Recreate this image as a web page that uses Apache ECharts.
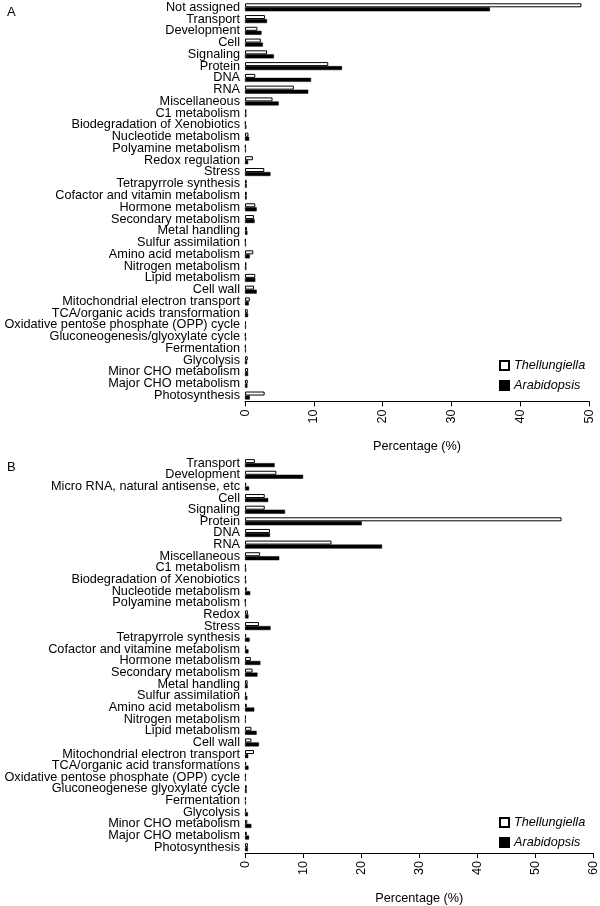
<!DOCTYPE html>
<html>
<head>
<meta charset="utf-8">
<script src="https://cdn.jsdelivr.net/npm/echarts@6/dist/echarts.min.js"></script>
<style>html,body{margin:0;padding:0;background:#fff}#c{width:600px;height:906px}</style>
</head>
<body>
<div id="c"></div>
<script>
var categoriesA = ["Not assigned","Transport","Development","Cell","Signaling","Protein","DNA","RNA","Miscellaneous","C1 metabolism","Biodegradation of Xenobiotics","Nucleotide metabolism","Polyamine metabolism","Redox regulation","Stress","Tetrapyrrole synthesis","Cofactor and vitamin metabolism","Hormone metabolism","Secondary metabolism","Metal handling","Sulfur assimilation","Amino acid metabolism","Nitrogen metabolism","Lipid metabolism","Cell wall","Mitochondrial electron transport","TCA/organic acids transformation","Oxidative pentose phosphate (OPP) cycle","Gluconeogenesis/glyoxylate cycle","Fermentation","Glycolysis","Minor CHO metabolism","Major CHO metabolism","Photosynthesis"];
var thellA = [48.9,2.9,1.8,2.3,3.2,12.1,1.5,7.1,4.0,0.2,0.1,0.5,0.1,1.15,2.8,0.25,0.25,1.5,1.3,0.3,0.1,1.2,0.2,1.5,1.3,0.7,0.4,0.15,0.1,0.1,0.4,0.45,0.4,2.85];
var arabA  = [35.6,3.2,2.4,2.6,4.2,14.1,9.6,9.2,4.9,0.2,0.2,0.6,0.15,0.45,3.7,0.25,0.25,1.7,1.4,0.35,0.15,0.7,0.2,1.5,1.7,0.55,0.45,0.15,0.15,0.15,0.3,0.45,0.35,0.7];

var categoriesB = ["Transport","Development","Micro RNA, natural antisense, etc","Cell","Signaling","Protein","DNA","RNA","Miscellaneous","C1 metabolism","Biodegradation of Xenobiotics","Nucleotide metabolism","Polyamine metabolism","Redox","Stress","Tetrapyrrole synthesis","Cofactor and vitamine metabolism","Hormone metabolism","Secondary metabolism","Metal handling","Sulfur assimilation","Amino acid metabolism","Nitrogen metabolism","Lipid metabolism","Cell wall","Mitochondrial electron transport","TCA/organic acid transformations","Oxidative pentose phosphate (OPP) cycle","Gluconeogenese glyoxylate cycle","Fermentation","Glycolysis","Minor CHO metabolism","Major CHO metabolism","Photosynthesis"];
var thellB = [1.7,5.4,0.2,3.4,3.4,54.5,4.3,14.9,2.6,0.15,0.15,0.3,0.1,0.5,2.4,0.2,0.2,1.0,1.3,0.45,0.2,0.3,0.15,1.1,1.1,1.55,0.2,0.15,0.3,0.15,0.2,0.4,0.3,0.5];
var arabB  = [5.1,10.0,0.7,4.0,6.9,20.1,4.3,23.6,5.9,0.2,0.2,0.9,0.15,0.6,4.4,0.8,0.6,2.65,2.15,0.45,0.4,1.6,0.15,2.0,2.4,0.55,0.6,0.15,0.3,0.15,0.5,1.1,0.7,0.5];

var seriesNames = ["Thellungiella","Arabidopsis"];
var axisMaxA = 50, axisMaxB = 60, tickStep = 10;

var FONT = "Liberation Sans";
var FS = 12.7;

function xAxisCfg(idx, max) {
  return {
    type: 'value', gridIndex: idx, min: 0, max: max, interval: tickStep,
    name: 'Percentage (%)', nameLocation: 'middle', nameGap: 39,
    nameTextStyle: {color: '#000', fontFamily: FONT, fontSize: FS},
    axisLine: {show: true, lineStyle: {color: '#000', width: 1}},
    axisTick: {show: true, length: 5, lineStyle: {color: '#000'}},
    axisLabel: {rotate: 90, color: '#000', fontFamily: FONT, fontSize: FS, margin: 8},
    splitLine: {show: false}
  };
}
function yAxisCfg(idx, cats) {
  return {
    type: 'category', gridIndex: idx, data: cats, inverse: true,
    axisLine: {show: false}, axisTick: {show: false},
    axisLabel: {interval: 0, color: '#000', fontFamily: FONT, fontSize: FS, margin: 5}
  };
}
function barSeries(name, idx, data, white) {
  return {
    type: 'bar', name: name, xAxisIndex: idx, yAxisIndex: idx, data: data,
    barWidth: 4, barGap: '0%',
    itemStyle: white ? {color: '#fff', borderColor: '#000', borderWidth: 1} : {color: '#000', borderColor: '#000', borderWidth: 0.5},
    emphasis: {disabled: true}, silent: true
  };
}
function legendCfg(top) {
  return {
    orient: 'vertical', left: 494, top: top, itemWidth: 9, itemHeight: 9, itemGap: 7,
    icon: 'rect', data: seriesNames,
    textStyle: {color: '#000', fontFamily: FONT, fontSize: FS, fontStyle: 'italic'}
  };
}

var chart = echarts.init(document.getElementById('c'), null, {renderer: 'canvas'});
chart.setOption({
  animation: false,
  backgroundColor: '#fff',
  title: [
    {text: 'A', left: 2, top: 1, textStyle: {fontFamily: FONT, fontSize: 13, fontWeight: 'normal', color: '#000'}},
    {text: 'B', left: 2, top: 456, textStyle: {fontFamily: FONT, fontSize: 13, fontWeight: 'normal', color: '#000'}}
  ],
  legend: [legendCfg(354), legendCfg(811)],
  grid: [
    {left: 245, width: 344, top: 1.4, height: 400},
    {left: 245, width: 351, top: 457.3, height: 399.5}
  ],
  xAxis: [xAxisCfg(0, axisMaxA), xAxisCfg(1, axisMaxB)],
  yAxis: [yAxisCfg(0, categoriesA), yAxisCfg(1, categoriesB)],
  series: [
    barSeries(seriesNames[0], 0, thellA, true),
    barSeries(seriesNames[1], 0, arabA, false),
    barSeries(seriesNames[0], 1, thellB, true),
    barSeries(seriesNames[1], 1, arabB, false)
  ]
});
</script>
</body>
</html>
